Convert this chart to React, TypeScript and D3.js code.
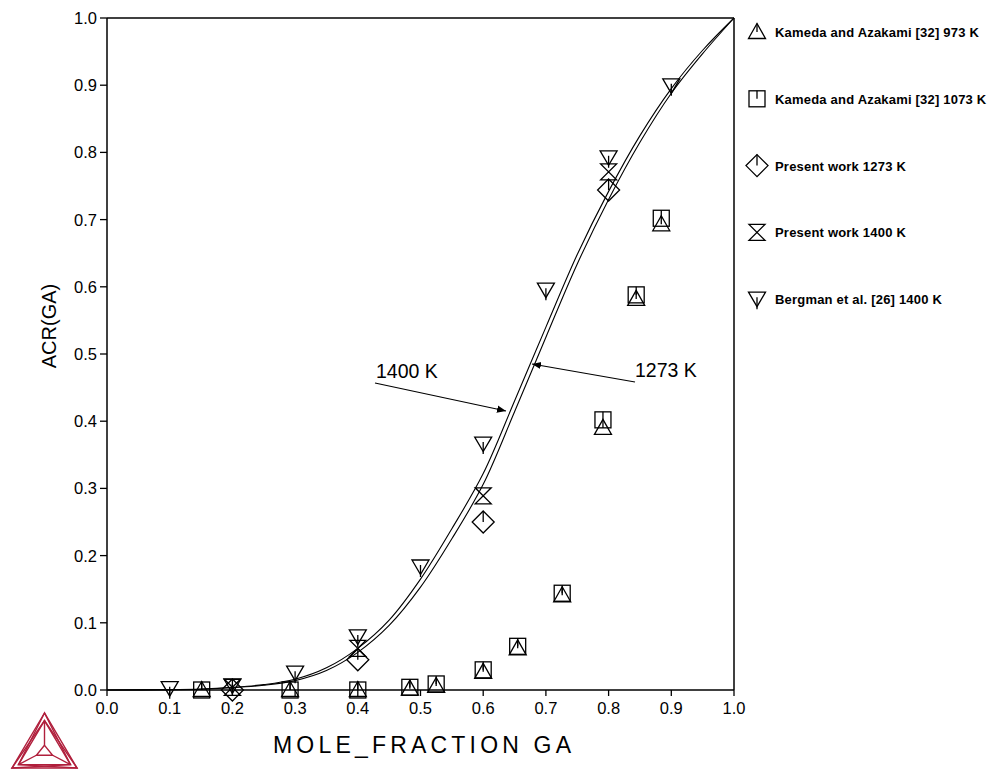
import React from "react";
import * as d3 from "d3";

const W = 988;
const H = 770;

const xTicks = [0, 0.1, 0.2, 0.3, 0.4, 0.5, 0.6, 0.7, 0.8, 0.9, 1.0];
const yTicks = [0, 0.1, 0.2, 0.3, 0.4, 0.5, 0.6, 0.7, 0.8, 0.9, 1.0];

const curveX = [0, 0.1, 0.15, 0.2, 0.25, 0.3, 0.35, 0.4, 0.45, 0.5, 0.55, 0.6, 0.65, 0.7, 0.75, 0.8, 0.85, 0.9, 0.95, 1.0];
const curve1400 = [0, 0.0005, 0.0015, 0.004, 0.008, 0.016, 0.033, 0.062, 0.104, 0.165, 0.24, 0.322, 0.43, 0.54, 0.648, 0.742, 0.825, 0.895, 0.952, 1.0];
const curve1273 = [0, 0.0004, 0.0012, 0.0033, 0.007, 0.014, 0.029, 0.056, 0.096, 0.153, 0.225, 0.306, 0.414, 0.525, 0.634, 0.73, 0.815, 0.888, 0.947, 1.0];

const kamedaX = [0.151, 0.292, 0.4, 0.483, 0.525, 0.6, 0.655, 0.726, 0.791, 0.844, 0.884];
const kameda973 = [0.0, 0.0, 0.0, 0.002, 0.006, 0.027, 0.062, 0.141, 0.39, 0.582, 0.693];
const kameda1073 = [0.0, 0.0, 0.0, 0.004, 0.009, 0.03, 0.065, 0.144, 0.402, 0.588, 0.702];

const presentX = [0.2, 0.4, 0.6, 0.8];
const present1273 = [0.0, 0.045, 0.25, 0.744];
const present1400 = [0.004, 0.062, 0.289, 0.771];

const bergmanX = [0.1, 0.2, 0.3, 0.4, 0.5, 0.6, 0.7, 0.8, 0.9];
const bergman1400 = [0.002, 0.006, 0.025, 0.079, 0.183, 0.366, 0.595, 0.792, 0.899];

const legendLabels = [
  "Kameda and Azakami [32] 973 K",
  "Kameda and Azakami [32] 1073 K",
  "Present work 1273 K",
  "Present work 1400 K",
  "Bergman et al. [26] 1400 K",
];
const legendShapes = ["tri", "sq", "dia", "hour", "inv"];

const left = 107, right = 734, top = 18, bottom = 690;
const x = d3.scaleLinear().domain([0, 1]).range([left, right]);
const y = d3.scaleLinear().domain([0, 1]).range([bottom, top]);

const font = "'Liberation Sans', Arial, sans-serif";

function Marker({ shape, cx, cy }: { shape: string; cx: number; cy: number }) {
  const st = { fill: "none", stroke: "#000", strokeWidth: 1.3 };
  let el: React.ReactNode = null;
  if (shape === "tri") {
    el = (
      <>
        <path d="M0,-8.5 L8.5,6.5 L-8.5,6.5 Z" {...st} />
        <line x1={0} y1={-8.5} x2={0} y2={0} {...st} />
      </>
    );
  } else if (shape === "sq") {
    el = (
      <>
        <rect x={-8} y={-8} width={16} height={16} {...st} />
        <line x1={0} y1={-8} x2={0} y2={0} {...st} />
      </>
    );
  } else if (shape === "dia") {
    el = (
      <>
        <path d="M0,-11 L11,0 L0,11 L-11,0 Z" {...st} />
        <line x1={0} y1={-11} x2={0} y2={0} {...st} />
      </>
    );
  } else if (shape === "hour") {
    el = <path d="M-8,-8 L8,-8 L-8,8 L8,8 Z" {...st} />;
  } else if (shape === "inv") {
    el = (
      <>
        <path d="M-8.5,-7 L8.5,-7 L0,7.5 Z" {...st} />
        <line x1={0} y1={-2} x2={0} y2={10} {...st} />
      </>
    );
  }
  return <g transform={`translate(${cx},${cy})`}>{el}</g>;
}

export default function App() {
  const line = d3
    .line<number>()
    .x((_, i) => x(curveX[i]))
    .y((d) => y(d))
    .curve(d3.curveCatmullRom.alpha(0.5));

  const series = [
    { shape: "tri", xs: kamedaX, ys: kameda973 },
    { shape: "sq", xs: kamedaX, ys: kameda1073 },
    { shape: "dia", xs: presentX, ys: present1273 },
    { shape: "hour", xs: presentX, ys: present1400 },
    { shape: "inv", xs: bergmanX, ys: bergman1400 },
  ];

  const logoColor = "#b01f3c";
  const A = [44.5, 713], B = [12, 768], C = [77, 768];
  const O = [44.5, 751];
  const inset = (p: number[], t: number) => [p[0] + (O[0] - p[0]) * t, p[1] + (O[1] - p[1]) * t];
  const Ai = inset(A, 0.2), Bi = inset(B, 0.2), Ci = inset(C, 0.2);
  const Ac = inset(A, 0.85), Bc = inset(B, 0.75), Cc = inset(C, 0.75);

  return (
    <svg width={W} height={H} style={{ position: "absolute", left: 0, top: 0, background: "#fff" }} fontFamily={font}>
      <rect x={0} y={0} width={W} height={H} fill="#fff" />
      <defs>
        <marker id="arr" viewBox="0 0 10 10" refX={10} refY={5} markerWidth={9} markerHeight={9} orient="auto-start-reverse" markerUnits="userSpaceOnUse">
          <path d="M0,1 L10,5 L0,9 Z" fill="#000" />
        </marker>
      </defs>

      {/* axes box */}
      <line x1={left} y1={bottom} x2={right} y2={bottom} stroke="#000" strokeWidth={1.5} />
      <line x1={left} y1={bottom} x2={left} y2={top} stroke="#000" strokeWidth={1.5} />
      <line x1={left} y1={top} x2={right} y2={top} stroke="#000" strokeWidth={1.5} />
      <line x1={right} y1={top} x2={right} y2={bottom} stroke="#000" strokeWidth={1.5} />

      {xTicks.map((t) => (
        <g key={"x" + t}>
          <line x1={x(t)} y1={bottom} x2={x(t)} y2={bottom + 6} stroke="#000" strokeWidth={1.3} />
          <text x={x(t)} y={bottom + 24} textAnchor="middle" fontSize={16.5} fill="#000">
            {t.toFixed(1)}
          </text>
        </g>
      ))}
      {yTicks.map((t) => (
        <g key={"y" + t}>
          <line x1={left - 7} y1={y(t)} x2={left} y2={y(t)} stroke="#000" strokeWidth={1.3} />
          <text x={left - 10} y={y(t) + 6} textAnchor="end" fontSize={16.5} fill="#000">
            {t.toFixed(1)}
          </text>
        </g>
      ))}

      <text x={273} y={753} fontSize={23} fill="#000" textLength={298} lengthAdjust="spacing">
        MOLE_FRACTION GA
      </text>
      <text transform="translate(56,326) rotate(-90)" textAnchor="middle" fontSize={20} fill="#000">
        ACR(GA)
      </text>

      {/* curves */}
      <path d={line(curve1400) || ""} fill="none" stroke="#000" strokeWidth={1.1} />
      <path d={line(curve1273) || ""} fill="none" stroke="#000" strokeWidth={1.1} />

      {/* annotations */}
      <text x={376} y={378} fontSize={19.5} fill="#000">1400 K</text>
      <line x1={375} y1={383} x2={506} y2={411} stroke="#000" strokeWidth={1.2} markerEnd="url(#arr)" />
      <text x={635} y={377} fontSize={19.5} fill="#000">1273 K</text>
      <line x1={635} y1={382} x2={532} y2={364} stroke="#000" strokeWidth={1.2} markerEnd="url(#arr)" />

      {/* markers */}
      {series.map((s, si) =>
        s.xs.map((xv, i) => <Marker key={si + "-" + i} shape={s.shape} cx={x(xv)} cy={y(s.ys[i])} />)
      )}

      {/* legend */}
      {legendLabels.map((lab, i) => {
        const ly = 32 + i * 66.8;
        return (
          <g key={lab}>
            <Marker shape={legendShapes[i]} cx={757} cy={ly} />
            <text x={775} y={ly + 5} fontSize={13} fontWeight="bold" fill="#000" letterSpacing={0.2}>
              {lab}
            </text>
          </g>
        );
      })}

      {/* logo */}
      <g fill="none" stroke={logoColor} strokeWidth={1.4} strokeLinejoin="miter">
        <path d={`M${A[0]},${A[1]} L${B[0]},${B[1]} L${C[0]},${C[1]} Z`} />
        <path d={`M${A[0]},${A[1]} L${Bi[0]},${Bi[1]} L${Ci[0]},${Ci[1]} Z`} />
        <path d={`M${B[0]},${B[1]} L${Ci[0]},${Ci[1]} L${Ai[0]},${Ai[1]} Z`} />
        <path d={`M${C[0]},${C[1]} L${Ai[0]},${Ai[1]} L${Bi[0]},${Bi[1]} Z`} />
        <path d={`M${Ac[0]},${Ac[1]} L${Bc[0]},${Bc[1]} L${Cc[0]},${Cc[1]} Z`} />
        <line x1={Ac[0]} y1={Ac[1]} x2={Ai[0]} y2={Ai[1]} />
        <line x1={Bc[0]} y1={Bc[1]} x2={Bi[0]} y2={Bi[1]} />
        <line x1={Cc[0]} y1={Cc[1]} x2={Ci[0]} y2={Ci[1]} />
      </g>
    </svg>
  );
}
